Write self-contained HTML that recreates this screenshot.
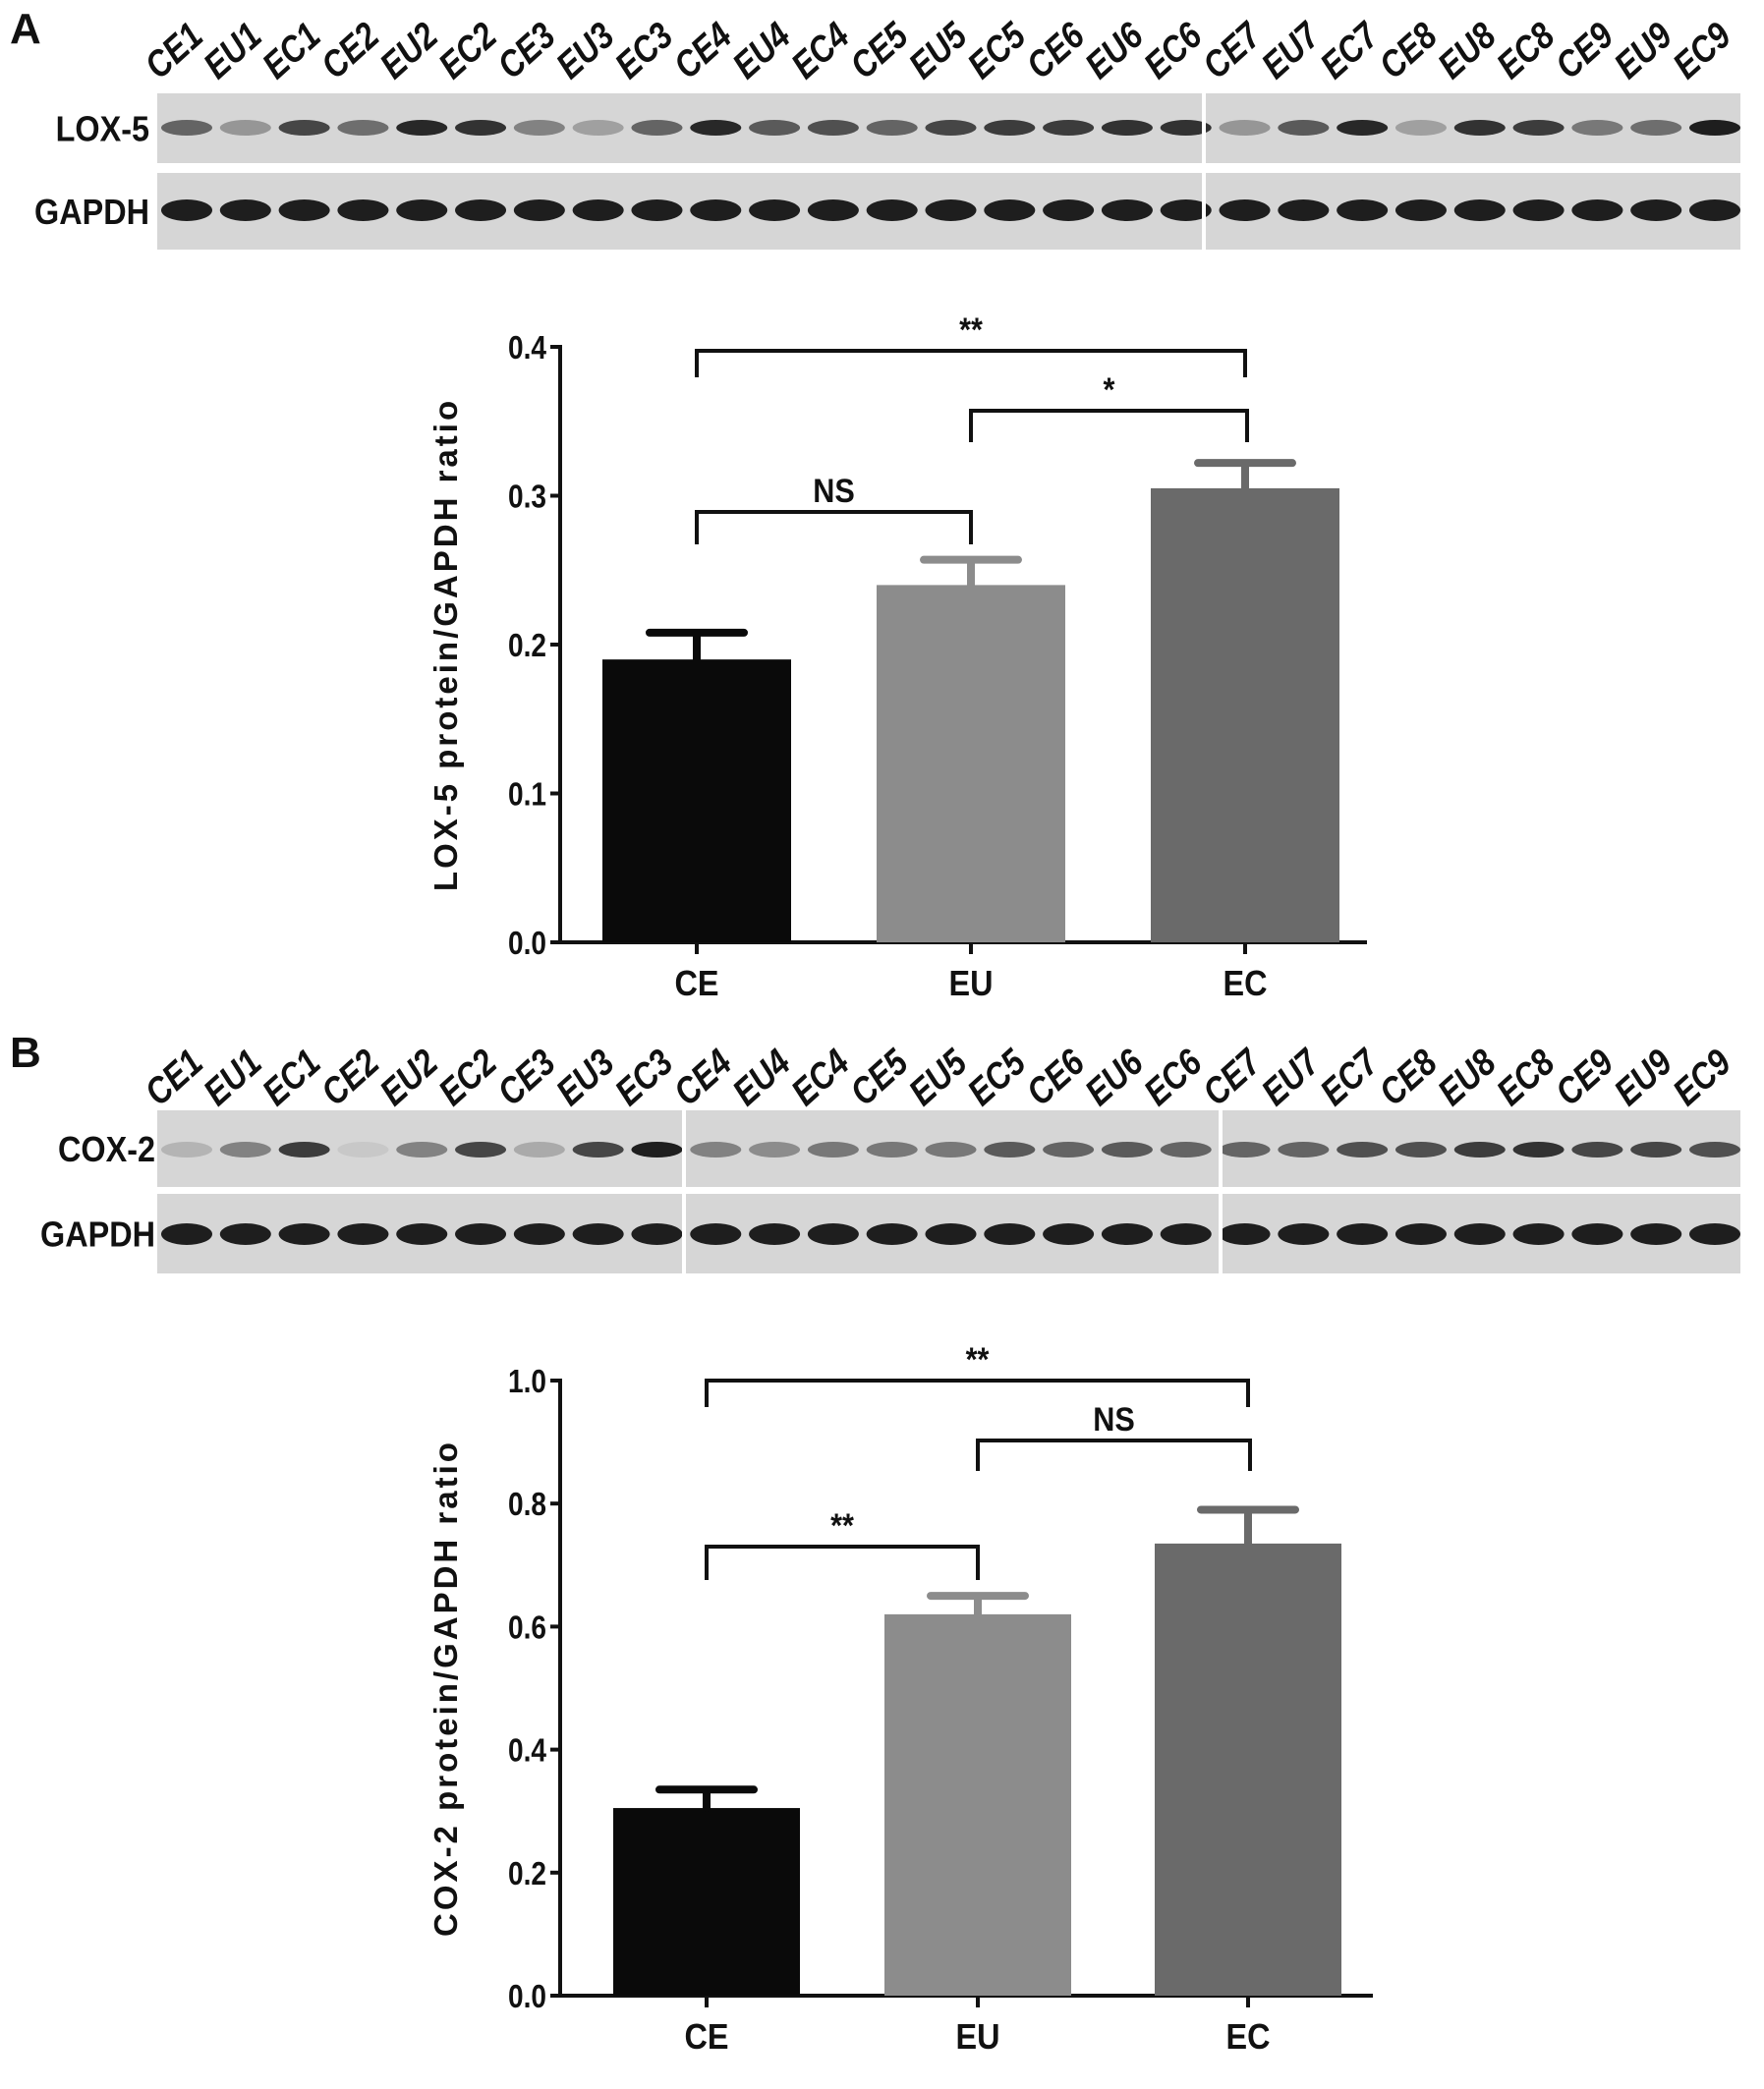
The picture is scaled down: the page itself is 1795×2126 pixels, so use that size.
<!DOCTYPE html>
<html><head><meta charset="utf-8">
<style>
html,body{margin:0;padding:0;background:#fff;}
svg{display:block;font-family:"Liberation Sans",sans-serif;font-weight:bold;}
</style></head>
<body>
<svg id="fig" width="1795" height="2126" viewBox="0 0 1795 2126" xmlns="http://www.w3.org/2000/svg">
<g id="root"></g>
</svg>
<script>
const lanes = ["CE1","EU1","EC1","CE2","EU2","EC2","CE3","EU3","EC3","CE4","EU4","EC4","CE5","EU5","EC5","CE6","EU6","EC6","CE7","EU7","EC7","CE8","EU8","EC8","CE9","EU9","EC9"];
const loxBands = [0.55,0.3,0.7,0.5,0.85,0.8,0.4,0.25,0.55,0.85,0.6,0.65,0.55,0.7,0.75,0.75,0.8,0.8,0.3,0.6,0.85,0.25,0.8,0.75,0.45,0.5,0.9];
const coxBands = [0.15,0.4,0.75,0.05,0.4,0.7,0.2,0.7,0.9,0.4,0.35,0.45,0.45,0.45,0.6,0.55,0.6,0.55,0.55,0.55,0.65,0.65,0.75,0.8,0.7,0.7,0.65];
const gapdhBands = [0.9,0.9,0.9,0.9,0.9,0.9,0.9,0.9,0.9,0.9,0.9,0.9,0.9,0.9,0.9,0.9,0.9,0.9,0.9,0.9,0.9,0.9,0.9,0.9,0.9,0.9,0.9];

const categories = ["CE","EU","EC"];
const loxValues = [0.19,0.24,0.305];
const loxErrors = [0.018,0.017,0.017];
const loxTicks = ["0.0","0.1","0.2","0.3","0.4"];
const coxValues = [0.305,0.62,0.735];
const coxErrors = [0.03,0.03,0.055];
const coxTicks = ["0.0","0.2","0.4","0.6","0.8","1.0"];
const barColors = ["#0a0a0a","#8c8c8c","#6a6a6a"];

const NS="http://www.w3.org/2000/svg";
const root=document.getElementById('root');
function mk(tag,attrs,parent){const e=document.createElementNS(NS,tag);for(const k in attrs)e.setAttribute(k,attrs[k]);(parent||root).appendChild(e);return e;}

function blot(opts){
  const g=mk('g',{});
  
  
  const lt=mk('text',{x:opts.letterX,y:opts.letterY,'font-size':44,fill:'#111'},g);lt.textContent=opts.letter;
  
  
  const x0=opts.x0,x1=1771,step=(1745-190)/26;
  lanes.forEach((l,i)=>{
    const cx=190+i*step;
    const t=mk('text',{x:0,y:0,'font-size':38,'font-style':'italic',fill:'#111',transform:`translate(${cx-28},${opts.labelY}) rotate(-42) scale(0.85,1)`},g);
    t.textContent=l;
    
    
  });
  [[opts.topY0,opts.topY1,opts.bands,opts.protein,opts.bandY],[opts.gY0,opts.gY1,gapdhBands,'GAPDH',opts.gBandY]].forEach(([y0,y1,arr,name,by])=>{
    const r=mk('rect',{x:x0,y:y0,width:x1-x0,height:y1-y0,fill:'#d6d6d6'},g);
    
    
    arr.forEach((v,i)=>{
      const cx=190+i*step;
      const c=Math.round(210-200*v);
      const e=mk('ellipse',{cx:cx,cy:by,rx:26,ry:name==='GAPDH'?11:8,fill:`rgb(${c},${c},${c})`},g);
      
      
    });
    const lab=mk('text',{x:0,y:0,'font-size':36,fill:'#111','text-anchor':'end',transform:`translate(${opts.labX},${(y0+y1)/2+13}) scale(0.9,1)`},g);
    lab.textContent=name;
    
    
  });
  opts.breaks.forEach(bx=>{mk('rect',{x:bx-2,y:opts.topY0,width:4,height:opts.gY1-opts.topY0,fill:'#fff'},g);});
}

blot({name:'lox5-blot',letter:'A',letterX:10,letterY:44,labelY:82,x0:160,topY0:95,topY1:166,gY0:176,gY1:254,bands:loxBands,protein:'LOX-5',bandY:130,gBandY:214,labX:152,breaks:[1225]});
blot({name:'cox2-blot',letter:'B',letterX:10,letterY:1086,labelY:1127,x0:160,topY0:1130,topY1:1208,gY0:1215,gY1:1296,bands:coxBands,protein:'COX-2',bandY:1170,gBandY:1256,labX:158,breaks:[696,1242]});

function chart(o){
  const g=mk('g',{});
  
  
  const ymax=o.max;
  const y=v=>o.y0-(v/ymax)*(o.y0-o.yTop);
  const xc=i=>o.centers[i];
  const ya=mk('line',{x1:o.ax,y1:o.yTop-2,x2:o.ax,y2:o.y0+2,stroke:'#111','stroke-width':4},g);
  
  const xa=mk('line',{x1:o.ax-2,y1:o.y0,x2:o.axEnd,y2:o.y0,stroke:'#111','stroke-width':4},g);
  
  o.ticks.forEach((t,i)=>{
    const v=i*ymax/(o.ticks.length-1),yy=y(v);
    mk('line',{x1:o.ax-10,y1:yy,x2:o.ax,y2:yy,stroke:'#111','stroke-width':4},g);
    const tx=mk('text',{x:0,y:0,'font-size':33,fill:'#111','text-anchor':'end',transform:`translate(${o.ax-14},${yy+12}) scale(0.85,1)`},g);
    tx.textContent=t;
    
  });
  o.values.forEach((v,i)=>{
    const cx=xc(i),w=o.barW;
    const b=mk('rect',{x:cx-w/2,y:y(v),width:w,height:o.y0-y(v),fill:barColors[i]},g);
    
    
    const top=y(v+o.errors[i]);
    const el=mk('path',{d:`M${cx},${y(v)} V${top} M${cx-48},${top} H${cx+48}`,stroke:barColors[i],'stroke-width':8,fill:'none','stroke-linecap':'round'},g);
    
    mk('line',{x1:cx,y1:o.y0,x2:cx,y2:o.y0+12,stroke:'#111','stroke-width':4},g);
    const ct=mk('text',{x:0,y:0,'font-size':36,fill:'#111','text-anchor':'middle',transform:`translate(${cx},${o.y0+54}) scale(0.9,1)`},g);
    ct.textContent=categories[i];
    
  });
  o.brackets.forEach(([a,bI,yTop,drop,label])=>{
    const x1=xc(a),x2=xc(bI)+(bI===2&&a===1?2:0);
    const p=mk('path',{d:`M${x1},${yTop+drop} V${yTop} H${x2} V${yTop+drop}`,stroke:'#111','stroke-width':4,fill:'none'},g);
    
    const t=mk('text',{x:0,y:0,'font-size':34,fill:'#111','text-anchor':'middle',transform:`translate(${(x1+x2)/2},${yTop-10}) scale(0.9,1)`},g);
    t.textContent=label;
    
  });
  const at=mk('text',{x:0,y:0,'font-size':33,fill:'#111','text-anchor':'middle','letter-spacing':'3',transform:`translate(${o.ax-105},${(o.yTop+o.y0)/2}) rotate(-90)`},g);
  at.textContent=o.title;
  
}

chart({name:'lox5-chart',max:0.4,ax:570,axEnd:1391,yTop:353,y0:959,centers:[709,988,1267],barW:192,values:loxValues,errors:loxErrors,ticks:loxTicks,
  title:'LOX-5 protein/GAPDH ratio',
  brackets:[[0,2,357,27,'**'],[1,2,418,32,'*'],[0,1,521,33,'NS']]});
chart({name:'cox2-chart',max:1.0,ax:570,axEnd:1397,yTop:1405,y0:2031,centers:[719,995,1270],barW:190,values:coxValues,errors:coxErrors,ticks:coxTicks,
  title:'COX-2 protein/GAPDH ratio',
  brackets:[[0,2,1405,27,'**'],[1,2,1466,31,'NS'],[0,1,1574,34,'**']]});
</script>
</body></html>
